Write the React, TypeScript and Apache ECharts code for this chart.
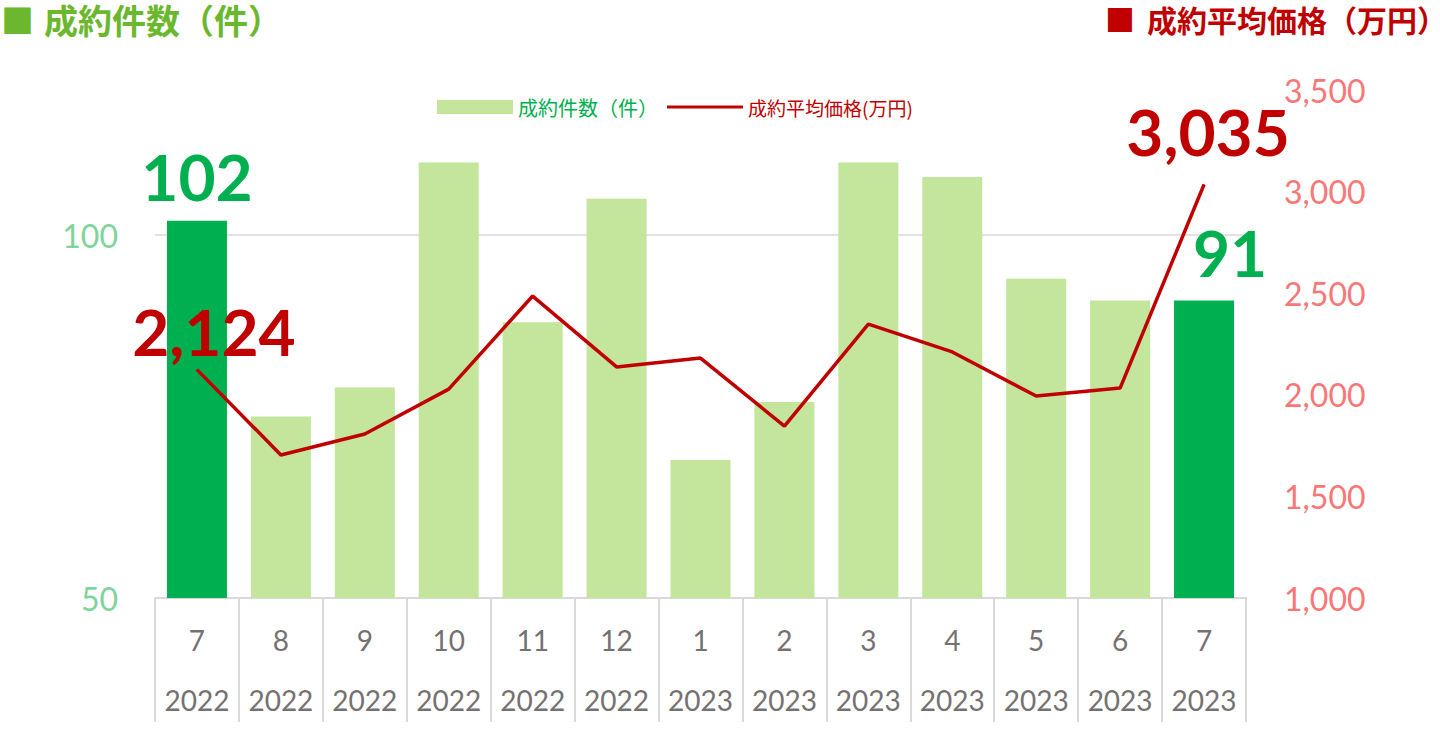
import React, { useEffect, useRef } from "react";
import * as echarts from "echarts";

const months = ["7", "8", "9", "10", "11", "12", "1", "2", "3", "4", "5", "6", "7"];
const years = ["2022", "2022", "2022", "2022", "2022", "2022", "2023", "2023", "2023", "2023", "2023", "2023", "2023"];
const counts = [102, 75, 79, 110, 88, 105, 69, 77, 110, 108, 94, 91, 91];
const prices = [2124, 1704, 1807, 2028, 2486, 2137, 2181, 1846, 2348, 2211, 1994, 2033, 3035];
const countName = "成約件数（件）";
const priceName = "成約平均価格(万円)";
const leftTitle = "成約件数（件）";
const rightTitle = "成約平均価格（万円）";

const DARK_GREEN = "#00b050";
const LIGHT_GREEN = "#c3e59c";
const RED = "#c00000";
const NUM_FONT = "Lato, 'Noto Sans', sans-serif";
const CJK_FONT = "'Noto Sans CJK JP', 'Noto Sans', sans-serif";

export default function App() {
  const ref = useRef<HTMLDivElement>(null);
  useEffect(() => {
    document.body.style.margin = "0";
    const chart = echarts.init(ref.current!, null, { renderer: "svg" });
    const categories = months.map((m, i) => `${m}/${years[i]}`);
    const last = counts.length - 1;
    const bigLabel = (color: string, dist: number, offX: number, fmt: string) => ({
      show: true,
      position: "top",
      distance: dist,
      offset: [offX, 0],
      color,
      fontSize: 64,
      fontWeight: "bold",
      fontFamily: NUM_FONT,
      formatter: fmt,
    });
    const barData = counts.map((v, i) => {
      if (i === 0 || i === last) {
        return {
          value: v,
          itemStyle: { color: DARK_GREEN },
          label: bigLabel(DARK_GREEN, i === 0 ? 12 : 16, i === 0 ? 0 : 26, String(v)),
        };
      }
      return v;
    });
    const priceMarks = [0, last].map((i) => ({
      coord: [categories[i], prices[i]],
      value: prices[i],
      label: bigLabel(RED, i === 0 ? 6 : 20, i === 0 ? 17 : 4, prices[i].toLocaleString("en-US")),
    }));
    chart.setOption({
      animation: false,
      backgroundColor: "#ffffff",
      grid: { left: 155, right: 194, top: 90, bottom: 140, containLabel: false },
      legend: {
        left: 432,
        top: 92,
        itemWidth: 76,
        itemHeight: 14,
        itemGap: 9,
        symbolKeepAspect: true,
        selectedMode: false,
        data: [
          { name: countName, icon: "rect", textStyle: { color: DARK_GREEN, fontSize: 20, fontFamily: CJK_FONT } },
          {
            name: priceName,
            icon: "path://M0,0L76,0L76,3L0,3Z",
            itemStyle: { color: RED },
            textStyle: { color: RED, fontSize: 19, fontFamily: CJK_FONT },
          },
        ],
      },
      xAxis: {
        type: "category",
        data: categories,
        axisLine: { show: true, lineStyle: { color: "#d9d9d9", width: 2 } },
        axisTick: { show: true, length: 124, interval: 0, lineStyle: { color: "#d9d9d9", width: 2 } },
        axisLabel: {
          interval: 0,
          margin: 12,
          formatter: (_v: string, i: number) => `{m|${months[i]}}\n{y|${years[i]}}`,
          rich: {
            m: { fontSize: 28, lineHeight: 60, color: "#767171", fontFamily: NUM_FONT },
            y: { fontSize: 28, lineHeight: 60, color: "#767171", fontFamily: NUM_FONT },
          },
        },
      },
      yAxis: [
        {
          type: "value",
          min: 50,
          max: 120,
          interval: 50,
          axisLine: { show: false },
          axisTick: { show: false },
          splitLine: {
            show: true,
            lineStyle: { color: ["rgba(0,0,0,0)", "#d9d9d9", "rgba(0,0,0,0)"], width: 1.5 },
          },
          axisLabel: {
            margin: 37,
            fontSize: 32,
            color: "#7ed49b",
            fontFamily: NUM_FONT,
            formatter: (v: number) => (v === 50 || v === 100 ? String(v) : ""),
          },
        },
        {
          type: "value",
          min: 1000,
          max: 3500,
          interval: 500,
          axisLine: { show: false },
          axisTick: { show: false },
          splitLine: { show: false },
          axisLabel: {
            margin: 38,
            fontSize: 32,
            color: "#f87777",
            fontFamily: NUM_FONT,
            formatter: (v: number) => v.toLocaleString("en-US"),
          },
        },
      ],
      series: [
        {
          name: countName,
          type: "bar",
          yAxisIndex: 0,
          barWidth: 60,
          itemStyle: { color: LIGHT_GREEN },
          data: barData,
        },
        {
          name: priceName,
          type: "line",
          yAxisIndex: 1,
          symbol: "none",
          showSymbol: false,
          lineStyle: { color: RED, width: 3.5 },
          itemStyle: { color: RED },
          z: 3,
          data: prices,
          markPoint: {
            symbol: "circle",
            symbolSize: 1,
            silent: true,
            itemStyle: { color: RED },
            data: priceMarks,
          },
        },
      ],
      graphic: [
        { type: "text", x: 1, y: 2, style: { text: "■", fontSize: 33, fill: "#6bb82e", fontFamily: CJK_FONT } },
        {
          type: "text",
          x: 44,
          y: 19,
          style: { text: leftTitle, fontSize: 34, fontWeight: "bold", fill: "#6bb82e", fontFamily: CJK_FONT, verticalAlign: "middle" },
        },
        { type: "text", x: 1105, y: 3, style: { text: "■", fontSize: 30, fill: RED, fontFamily: CJK_FONT } },
        {
          type: "text",
          x: 1147,
          y: 19,
          style: { text: rightTitle, fontSize: 30, fontWeight: "bold", fill: RED, fontFamily: CJK_FONT, verticalAlign: "middle" },
        },
      ],
    });
    return () => chart.dispose();
  }, []);
  return <div ref={ref} style={{ position: "fixed", left: 0, top: 0, width: 1440, height: 738 }} />;
}
